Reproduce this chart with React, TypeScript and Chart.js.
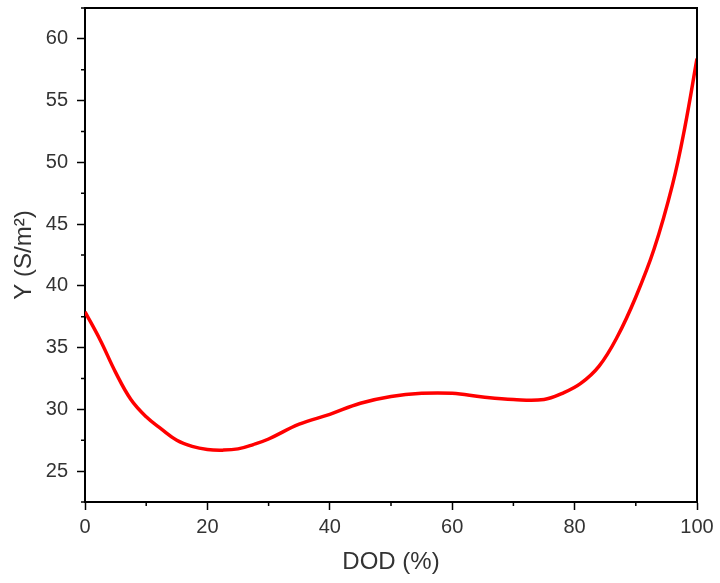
import React, { useEffect, useRef } from "react";
import { Chart, registerables } from "chart.js";

Chart.register(...registerables);

const dodValues = [0, 2.5, 5, 7.5, 10, 12.5, 15, 17.5, 20, 22.5, 25, 27.5, 30, 35, 40, 45, 50, 55, 60, 65, 70, 75, 78, 81, 84, 87, 90, 93, 96, 98, 100];
const yValues = [37.9, 35.6, 33.0, 30.8, 29.4, 28.4, 27.5, 27.0, 26.75, 26.7, 26.8, 27.15, 27.6, 28.8, 29.6, 30.5, 31.05, 31.3, 31.3, 31.0, 30.8, 30.8, 31.3, 32.1, 33.5, 35.9, 39.1, 43.0, 48.2, 52.8, 58.4];

const xMajorTicks = [0, 20, 40, 60, 80, 100];
const xMinorTicks = [10, 30, 50, 70, 90];
const yMajorTicks = [25, 30, 35, 40, 45, 50, 55, 60];
const yMinorTicks = [22.5, 27.5, 32.5, 37.5, 42.5, 47.5, 52.5, 57.5, 62.5];

const FONT = "'Liberation Sans', Arial, sans-serif";
const TEXT = "#333333";

const framePlugin = {
  id: "frameMinor",
  afterDraw(chart: any) {
    const { ctx, chartArea } = chart;
    const { left, right, top, bottom } = chartArea;
    const xs = chart.scales.x;
    const ys = chart.scales.y;
    ctx.save();
    ctx.strokeStyle = "#000";
    ctx.lineWidth = 2;
    ctx.beginPath();
    ctx.moveTo(left, top);
    ctx.lineTo(right, top);
    ctx.lineTo(right, bottom);
    ctx.stroke();
    ctx.lineWidth = 1.5;
    ctx.beginPath();
    xMinorTicks.forEach((v) => {
      const px = xs.getPixelForValue(v);
      ctx.moveTo(px, bottom);
      ctx.lineTo(px, bottom + 4);
    });
    yMinorTicks.forEach((v) => {
      const py = ys.getPixelForValue(v);
      ctx.moveTo(left, py);
      ctx.lineTo(left - 4, py);
    });
    ctx.stroke();
    ctx.restore();
  },
};

export default function App() {
  const ref = useRef<HTMLCanvasElement | null>(null);
  useEffect(() => {
    if (!ref.current) return;
    const chart = new Chart(ref.current, {
      type: "line",
      data: {
        datasets: [
          {
            data: dodValues.map((x, i) => ({ x, y: yValues[i] })),
            borderColor: "#ff0000",
            borderWidth: 3.5,
            pointRadius: 0,
            tension: 0.4,
            fill: false,
          },
        ],
      },
      options: {
        animation: false,
        responsive: false,
        devicePixelRatio: 1,
        layout: { padding: { top: 8, right: 23, left: 0, bottom: 0 } },
        plugins: { legend: { display: false }, tooltip: { enabled: false } },
        scales: {
          x: {
            type: "linear",
            min: 0,
            max: 100,
            afterBuildTicks: (s: any) => {
              s.ticks = xMajorTicks.map((v) => ({ value: v }));
            },
            afterFit: (s: any) => {
              s.height = 81;
              s.paddingLeft = 0;
              s.paddingRight = 0;
            },
            grid: {
              drawOnChartArea: false,
              drawTicks: true,
              tickLength: 8,
              tickWidth: 1.5,
              tickColor: "#000",
              color: "#000",
            },
            border: { display: true, color: "#000", width: 2 },
            ticks: {
              padding: 5,
              color: TEXT,
              font: { family: FONT, size: 20 },
              maxRotation: 0,
            },
            title: {
              display: true,
              text: "DOD (%)",
              color: TEXT,
              font: { family: FONT, size: 24 },
              padding: { top: 0, bottom: 6 },
            },
          },
          y: {
            type: "linear",
            min: 22.5,
            max: 62.5,
            afterBuildTicks: (s: any) => {
              s.ticks = yMajorTicks.map((v) => ({ value: v }));
            },
            afterFit: (s: any) => {
              s.width = 85;
              s.paddingTop = 0;
              s.paddingBottom = 0;
            },
            grid: {
              drawOnChartArea: false,
              drawTicks: true,
              tickLength: 8,
              tickWidth: 1.5,
              tickColor: "#000",
              color: "#000",
            },
            border: { display: true, color: "#000", width: 2 },
            ticks: {
              padding: 9,
              color: TEXT,
              font: { family: FONT, size: 20 },
            },
            title: {
              display: true,
              text: "Y (S/m²)",
              color: TEXT,
              font: { family: FONT, size: 24 },
              padding: { top: 10, bottom: 0 },
            },
          },
        },
      },
      plugins: [framePlugin],
    } as any);
    return () => chart.destroy();
  }, []);
  return (
    <div style={{ position: "absolute", left: 0, top: 0, width: 720, height: 583, background: "#fff" }}>
      <canvas ref={ref} width={720} height={583} style={{ display: "block" }} />
    </div>
  );
}
